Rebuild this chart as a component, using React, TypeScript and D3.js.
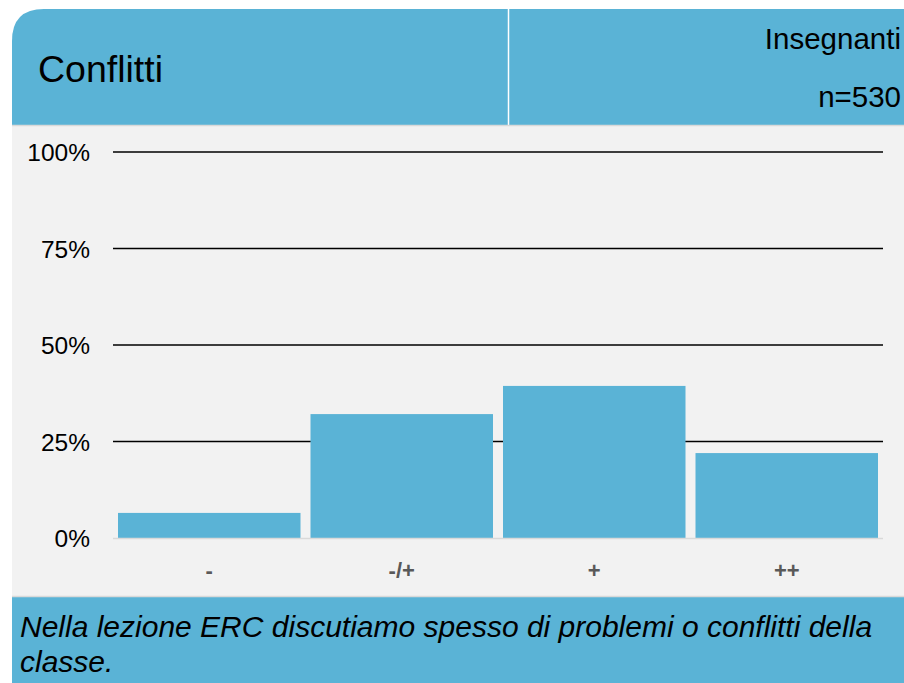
import React from "react";
import * as d3 from "d3";

const categories = ["-", "-/+", "+", "++"];
const values = [6.5, 32.1, 39.4, 22.0];
const yTicks = [0, 25, 50, 75, 100];
const title = "Conflitti";
const groupLabel = "Insegnanti";
const nLabel = "n=530";
const question = ["Nella lezione ERC discutiamo spesso di problemi o conflitti della", "classe."];

const W = 904;
const H = 683;
const BLUE = "#5ab3d6";
const FONT = "Liberation Sans, Arial, sans-serif";

export default function App() {
  const x = d3.scaleBand<string>().domain(categories).range([113, 883]).paddingInner(0.052).paddingOuter(0.026);
  const y = d3.scaleLinear().domain([0, 100]).range([538, 152]);
  const panelX = 12;
  const panelY = 9;
  const r = 32;
  const headerBottom = 125;
  const footerTop = 597;
  const headerPath = `M${panelX},${headerBottom} L${panelX},${panelY + r} Q${panelX},${panelY} ${panelX + r},${panelY} L${W},${panelY} L${W},${headerBottom} Z`;
  return (
    <svg width={W} height={H} style={{ position: "absolute", left: 0, top: 0, display: "block" }}>
      <rect x={0} y={0} width={W} height={H} fill="#ffffff" />
      <rect x={panelX} y={headerBottom} width={W - panelX} height={footerTop - headerBottom} fill="#f2f2f2" />
      <path d={headerPath} fill={BLUE} />
      <line x1={508.5} x2={508.5} y1={panelY} y2={headerBottom} stroke="#ffffff" strokeWidth={1.5} />
      <line x1={panelX} x2={W} y1={headerBottom + 0.5} y2={headerBottom + 0.5} stroke="#d9d9d9" strokeWidth={1.5} />
      <text x={38} y={82} fontFamily={FONT} fontSize={37.5} fill="#000">{title}</text>
      <text x={901} y={49} textAnchor="end" fontFamily={FONT} fontSize={29.5} fill="#000">{groupLabel}</text>
      <text x={901} y={107} textAnchor="end" fontFamily={FONT} fontSize={29.5} fill="#000">{nLabel}</text>
      {yTicks.filter((t) => t > 0).map((t) => (
        <line key={t} x1={113} x2={883} y1={y(t)} y2={y(t)} stroke="#000" strokeWidth={1.3} />
      ))}
      {yTicks.map((t) => (
        <text key={"l" + t} x={90} y={y(t) + 9} textAnchor="end" fontFamily={FONT} fontSize={24.5} fill="#000">{t + "%"}</text>
      ))}
      {categories.map((c, i) => (
        <rect key={c} x={x(c)} y={y(values[i])} width={x.bandwidth()} height={y(0) - y(values[i])} fill={BLUE} />
      ))}
      <line x1={113} x2={883} y1={y(0) + 0.5} y2={y(0) + 0.5} stroke="#d9d9d9" strokeWidth={1.5} />
      {categories.map((c) => (
        <text key={"x" + c} x={(x(c) ?? 0) + x.bandwidth() / 2} y={578} textAnchor="middle" fontFamily={FONT} fontSize={22} fontWeight="bold" fill="#595959">{c}</text>
      ))}
      <rect x={panelX} y={footerTop} width={W - panelX} height={H - footerTop} fill={BLUE} />
      <line x1={panelX} x2={W} y1={footerTop - 0.5} y2={footerTop - 0.5} stroke="#d9d9d9" strokeWidth={1.5} />
      {question.map((q, i) => (
        <text key={i} x={20} y={637 + i * 35} fontFamily={FONT} fontSize={30} fontStyle="italic" fill="#000">{q}</text>
      ))}
    </svg>
  );
}
